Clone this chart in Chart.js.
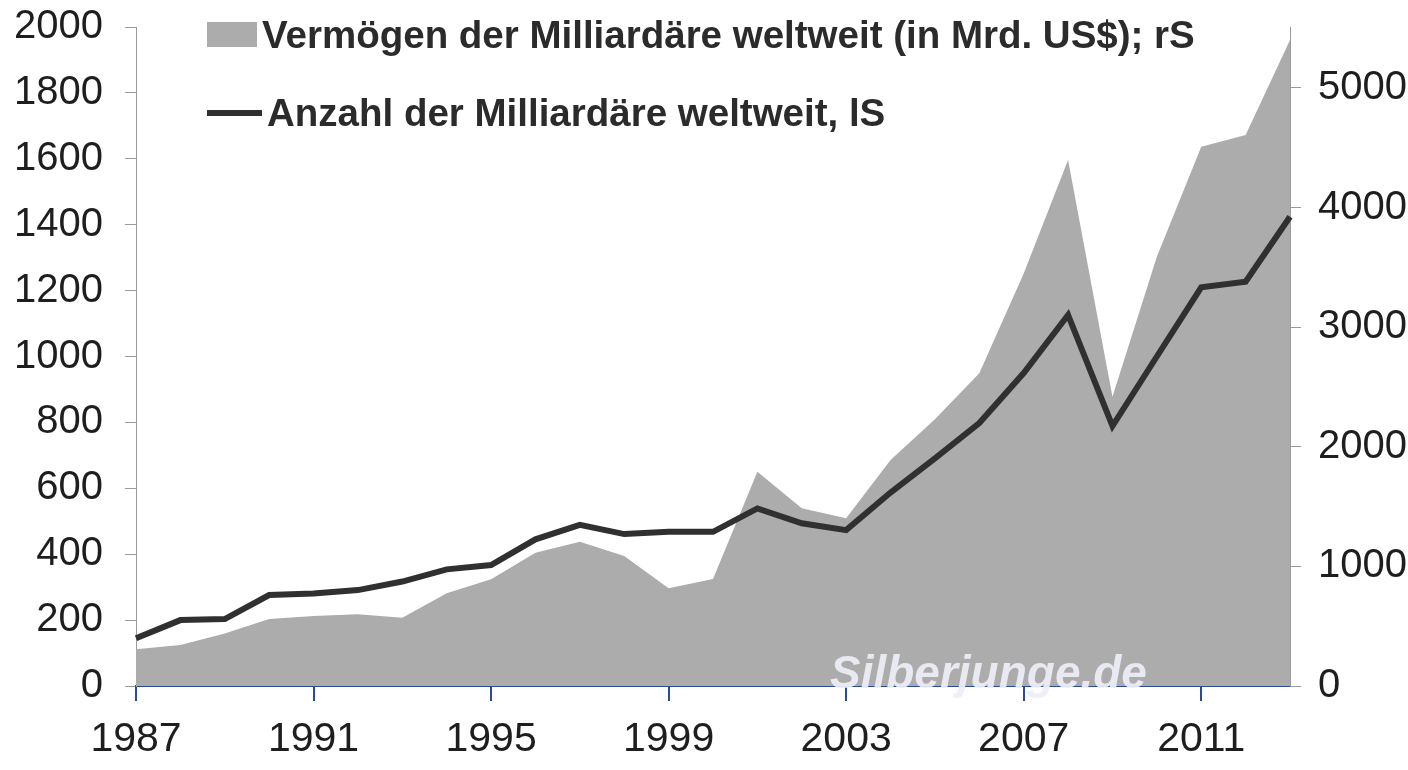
<!DOCTYPE html>
<html>
<head>
<meta charset="utf-8">
<script src="https://cdn.jsdelivr.net/npm/chart.js@4/dist/chart.umd.min.js"></script>
<style>
  html, body { margin: 0; padding: 0; background: #fff; }
  #wrap { width: 1408px; height: 770px; position: relative; }
</style>
</head>
<body>
<div id="wrap"><canvas id="chart"></canvas></div>
<script>
var years = ["1987","1988","1989","1990","1991","1992","1993","1994","1995","1996","1997","1998","1999",
             "2000","2001","2002","2003","2004","2005","2006","2007","2008","2009","2010","2011","2012","2013"];
// Anzahl der Milliardäre (linke Skala)
var anzahl = [145, 200, 203, 276, 281, 291, 317, 354, 367, 445, 489, 461, 468,
              468, 539, 494, 473, 587, 691, 798, 950, 1126, 789, 1000, 1210, 1227, 1424];
// Vermögen in Mrd. US$ (rechte Skala)
var vermoegen = [307, 343, 440, 560, 585, 599, 571, 775, 892, 1115, 1207, 1087, 817,
                 895, 1792, 1486, 1402, 1890, 2230, 2614, 3450, 4398, 2419, 3590, 4509, 4607, 5401];
var leftTicks = [0, 200, 400, 600, 800, 1000, 1200, 1400, 1600, 1800, 2000];
var rightTicks = [0, 1000, 2000, 3000, 4000, 5000];

var FONT = "'Liberation Sans', Arial, sans-serif";

// Legende und Wasserzeichen direkt auf die Leinwand
var legendPlugin = {
  id: "ownLegend",
  afterDraw: function(chart) {
    var ctx = chart.ctx;
    var ds = chart.data.datasets;
    ctx.save();
    ctx.font = "bold 38.5px " + FONT;
    ctx.textBaseline = "alphabetic";
    // Fläche
    ctx.fillStyle = ds[1].backgroundColor;
    ctx.fillRect(207, 22, 50, 25);
    ctx.fillStyle = "#2b2b2b";
    ctx.fillText(ds[1].label, 262, 48);
    // Linie
    ctx.strokeStyle = ds[0].borderColor;
    ctx.lineWidth = 6;
    ctx.beginPath();
    ctx.moveTo(207, 113);
    ctx.lineTo(262, 113);
    ctx.stroke();
    ctx.fillText(ds[0].label, 267, 126);
    // Wasserzeichen
    ctx.font = "italic bold 46px " + FONT;
    ctx.fillStyle = "rgba(238,238,246,0.92)";
    ctx.fillText("Silberjunge.de", 830, 688);
    ctx.restore();
  }
};

function plain(v) { return String(v); }
function fitY(w) {
  return function(s) { s.width = w; s.paddingTop = 0; s.paddingBottom = 0; };
}

new Chart(document.getElementById("chart"), {
  type: "line",
  data: {
    labels: years,
    datasets: [{
      label: "Anzahl der Milliardäre weltweit, lS",
      data: anzahl,
      yAxisID: "y",
      borderColor: "#303030",
      borderWidth: 6,
      pointRadius: 0,
      fill: false,
      tension: 0,
      order: 0
    }, {
      label: "Vermögen der Milliardäre weltweit (in Mrd. US$); rS",
      data: vermoegen,
      yAxisID: "y2",
      borderWidth: 0,
      borderColor: "rgba(0,0,0,0)",
      backgroundColor: "#acacac",
      pointRadius: 0,
      fill: "origin",
      tension: 0,
      order: 1
    }]
  },
  options: {
    responsive: true,
    maintainAspectRatio: false,
    animation: false,
    layout: { padding: { top: 27, left: 0, right: 0, bottom: 0 } },
    plugins: { legend: { display: false }, tooltip: { enabled: false } },
    scales: {
      x: {
        type: "category",
        offset: false,
        afterFit: function(s) { s.height = 84; s.paddingLeft = 0; s.paddingRight = 0; },
        grid: { display: true, drawOnChartArea: false, drawTicks: true, tickLength: 15, color: "#2a4a9a", lineWidth: 2 },
        border: { display: true, color: "#2a4a9a", width: 2 },
        ticks: {
          autoSkip: false, maxRotation: 0, padding: 14,
          color: "#1e1e1e", font: { family: FONT, size: 41 },
          callback: function(v, i) { return i % 4 === 0 ? years[i] : null; }
        }
      },
      y: {
        position: "left",
        min: 0, max: 2000,
        afterFit: fitY(136),
        afterBuildTicks: function(s) { s.ticks = leftTicks.map(function(v) { return { value: v }; }); },
        grid: { drawOnChartArea: false, drawTicks: true, tickLength: 11, color: "#9a9a9a", lineWidth: 1 },
        border: { display: true, color: "#9a9a9a", width: 1 },
        ticks: { padding: 22, color: "#1e1e1e", font: { family: FONT, size: 40 }, callback: plain }
      },
      y2: {
        position: "right",
        min: 0, max: 5510,
        afterFit: fitY(118),
        afterBuildTicks: function(s) { s.ticks = rightTicks.map(function(v) { return { value: v }; }); },
        grid: { drawOnChartArea: false, drawTicks: true, tickLength: 11, color: "#9a9a9a", lineWidth: 1 },
        border: { display: true, color: "#9a9a9a", width: 1 },
        ticks: { padding: 17, color: "#1e1e1e", font: { family: FONT, size: 40 }, callback: plain }
      }
    }
  },
  plugins: [legendPlugin]
});
</script>
</body>
</html>
